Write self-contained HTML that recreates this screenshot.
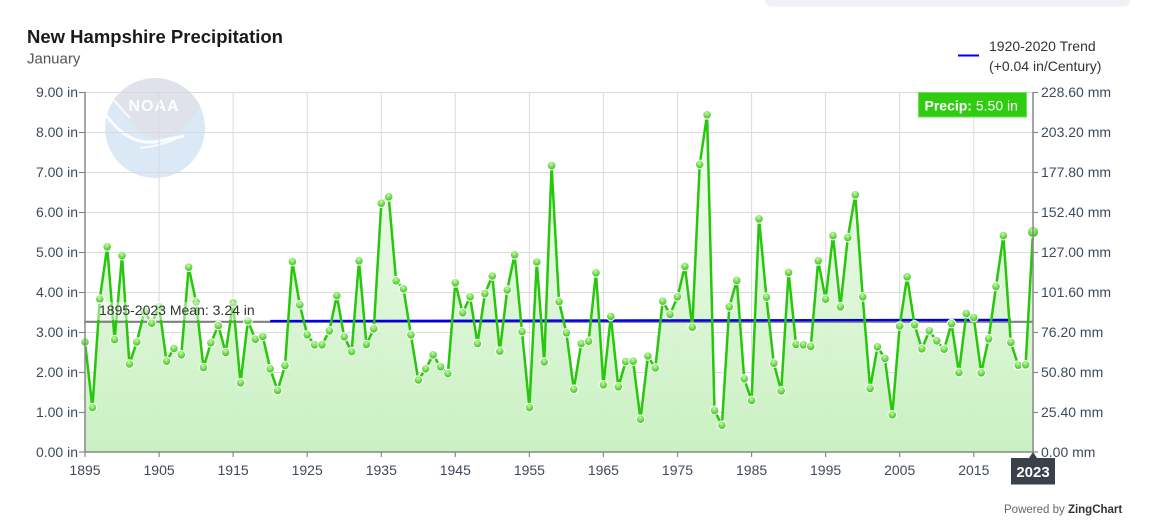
<!DOCTYPE html>
<html><head><meta charset="utf-8"><style>
html,body{margin:0;padding:0;background:#fff;}
body{width:1149px;height:529px;overflow:hidden;}
svg{display:block;font-family:"Liberation Sans",sans-serif;}
</style></head><body>
<svg width="1149" height="529" viewBox="0 0 1149 529" xmlns="http://www.w3.org/2000/svg">
<defs>
<linearGradient id="fillG" x1="0" y1="92" x2="0" y2="452" gradientUnits="userSpaceOnUse">
<stop offset="0" stop-color="#f6fdf4"/>
<stop offset="1" stop-color="#c7f0bf"/>
</linearGradient>
<radialGradient id="dotG" cx="0.45" cy="0.3" r="0.75">
<stop offset="0" stop-color="#c8f7a8"/>
<stop offset="0.55" stop-color="#6ad84a"/>
<stop offset="1" stop-color="#2cbf10"/>
</radialGradient>
<marker id="dot" markerWidth="12" markerHeight="12" refX="6" refY="6" markerUnits="userSpaceOnUse" viewBox="0 0 12 12">
<circle cx="6" cy="6" r="4.3" fill="url(#dotG)" stroke="#ffffff" stroke-width="1"/>
</marker>
</defs>

<!-- top gray bar -->
<rect x="765" y="-10" width="365" height="16.5" rx="6" fill="#f0f1f5"/>

<!-- title -->
<text x="27" y="43" font-size="18.5" font-weight="bold" fill="#1a1a1a">New Hampshire Precipitation</text>
<text x="27" y="63.5" font-size="15" fill="#555">January</text>

<!-- legend -->
<line x1="958" y1="55.5" x2="979" y2="55.5" stroke="#0000ee" stroke-width="2"/>
<text x="989" y="51" font-size="14" fill="#333">1920-2020 Trend</text>
<text x="989" y="71" font-size="14" fill="#333">(+0.04 in/Century)</text>

<!-- NOAA logo -->
<g opacity="1">
<circle cx="155" cy="128" r="50" fill="#dbe9f6"/>
<path d="M200 106 A50 50 0 0 0 114 100 Q136 136 158 139 Q184 136 200 106 Z" fill="#dfe2ea"/>
<path d="M106 115 Q130 148 160 141 Q175 138 184 136" fill="none" stroke="#ffffff" stroke-width="3" opacity="0.85"/>
<path d="M140 148 Q160 146 176 139" fill="none" stroke="#ffffff" stroke-width="2" opacity="0.8"/>
<path d="M114 100 Q124 112 130 118" fill="none" stroke="#ffffff" stroke-width="2" opacity="0.8"/>
<text x="154" y="111" font-size="16" font-weight="bold" fill="#ffffff" text-anchor="middle" letter-spacing="1">NOAA</text>
</g>

<!-- grid -->
<g stroke="#dadada" stroke-width="1">
<line x1="85" y1="92.5" x2="1033" y2="92.5"/>
<line x1="85" y1="132.5" x2="1033" y2="132.5"/>
<line x1="85" y1="172.5" x2="1033" y2="172.5"/>
<line x1="85" y1="212.5" x2="1033" y2="212.5"/>
<line x1="85" y1="252.5" x2="1033" y2="252.5"/>
<line x1="85" y1="292.5" x2="1033" y2="292.5"/>
<line x1="85" y1="332.5" x2="1033" y2="332.5"/>
<line x1="85" y1="372.5" x2="1033" y2="372.5"/>
<line x1="85" y1="412.5" x2="1033" y2="412.5"/>
<line x1="159.1" y1="92" x2="159.1" y2="452"/>
<line x1="233.1" y1="92" x2="233.1" y2="452"/>
<line x1="307.2" y1="92" x2="307.2" y2="452"/>
<line x1="381.3" y1="92" x2="381.3" y2="452"/>
<line x1="455.3" y1="92" x2="455.3" y2="452"/>
<line x1="529.4" y1="92" x2="529.4" y2="452"/>
<line x1="603.4" y1="92" x2="603.4" y2="452"/>
<line x1="677.5" y1="92" x2="677.5" y2="452"/>
<line x1="751.6" y1="92" x2="751.6" y2="452"/>
<line x1="825.6" y1="92" x2="825.6" y2="452"/>
<line x1="899.7" y1="92" x2="899.7" y2="452"/>
<line x1="973.8" y1="92" x2="973.8" y2="452"/>
</g>

<!-- area fill -->
<polygon fill="url(#fillG)" fill-opacity="0.95" points="85.0,342.0 92.4,407.6 99.8,299.2 107.2,246.8 114.6,339.6 122.0,255.6 129.4,364.0 136.8,342.0 144.3,311.6 151.7,323.2 159.1,306.8 166.5,361.2 173.9,348.4 181.3,354.8 188.7,267.2 196.1,302.0 203.5,367.6 210.9,342.8 218.3,325.6 225.7,352.4 233.1,302.8 240.5,382.8 247.9,320.8 255.3,339.2 262.8,336.4 270.2,368.8 277.6,390.4 285.0,365.6 292.4,261.6 299.8,304.8 307.2,334.8 314.6,344.8 322.0,344.8 329.4,330.8 336.8,295.6 344.2,336.8 351.6,351.6 359.0,260.8 366.4,344.4 373.8,328.8 381.3,203.2 388.7,196.8 396.1,280.8 403.5,288.8 410.9,334.8 418.3,380.0 425.7,368.8 433.1,354.8 440.5,366.8 447.9,373.6 455.3,282.8 462.7,312.8 470.1,296.8 477.5,343.6 484.9,293.6 492.3,276.0 499.8,351.2 507.2,290.0 514.6,254.8 522.0,331.6 529.4,407.6 536.8,262.0 544.2,362.0 551.6,165.6 559.0,301.6 566.4,332.8 573.8,389.2 581.2,343.6 588.6,341.2 596.0,272.8 603.4,384.8 610.8,316.4 618.3,386.8 625.7,361.6 633.1,361.2 640.5,419.2 647.9,356.0 655.3,368.0 662.7,301.2 670.1,314.4 677.5,296.8 684.9,266.4 692.3,327.2 699.7,164.4 707.1,114.8 714.5,410.4 721.9,425.2 729.3,306.8 736.8,280.4 744.2,378.8 751.6,400.4 759.0,218.8 766.4,297.2 773.8,363.2 781.2,390.8 788.6,272.4 796.0,344.4 803.4,344.8 810.8,346.4 818.2,260.8 825.6,299.2 833.0,235.6 840.4,306.8 847.8,237.6 855.3,194.8 862.7,296.8 870.1,388.4 877.5,346.8 884.9,358.4 892.3,414.8 899.7,326.0 907.1,276.8 914.5,324.8 921.9,348.8 929.3,330.8 936.7,340.8 944.1,349.2 951.5,323.6 958.9,372.4 966.3,313.6 973.8,317.6 981.2,372.8 988.6,338.8 996.0,286.4 1003.4,235.6 1010.8,342.4 1018.2,365.2 1025.6,364.8 1033.0,232.0 1033,452 85,452"/>

<!-- mean line -->
<line x1="85" y1="321.8" x2="1033" y2="321.8" stroke="#808080" stroke-width="2.2"/>
<!-- trend line -->
<line x1="270.2" y1="321.1" x2="1010.8" y2="319.9" stroke="#0000ee" stroke-width="2.4"/>

<!-- series line -->
<polyline fill="none" stroke="#27c70c" stroke-width="2.5" stroke-linejoin="round" marker-start="url(#dot)" marker-mid="url(#dot)" marker-end="url(#dot)" points="85.0,342.0 92.4,407.6 99.8,299.2 107.2,246.8 114.6,339.6 122.0,255.6 129.4,364.0 136.8,342.0 144.3,311.6 151.7,323.2 159.1,306.8 166.5,361.2 173.9,348.4 181.3,354.8 188.7,267.2 196.1,302.0 203.5,367.6 210.9,342.8 218.3,325.6 225.7,352.4 233.1,302.8 240.5,382.8 247.9,320.8 255.3,339.2 262.8,336.4 270.2,368.8 277.6,390.4 285.0,365.6 292.4,261.6 299.8,304.8 307.2,334.8 314.6,344.8 322.0,344.8 329.4,330.8 336.8,295.6 344.2,336.8 351.6,351.6 359.0,260.8 366.4,344.4 373.8,328.8 381.3,203.2 388.7,196.8 396.1,280.8 403.5,288.8 410.9,334.8 418.3,380.0 425.7,368.8 433.1,354.8 440.5,366.8 447.9,373.6 455.3,282.8 462.7,312.8 470.1,296.8 477.5,343.6 484.9,293.6 492.3,276.0 499.8,351.2 507.2,290.0 514.6,254.8 522.0,331.6 529.4,407.6 536.8,262.0 544.2,362.0 551.6,165.6 559.0,301.6 566.4,332.8 573.8,389.2 581.2,343.6 588.6,341.2 596.0,272.8 603.4,384.8 610.8,316.4 618.3,386.8 625.7,361.6 633.1,361.2 640.5,419.2 647.9,356.0 655.3,368.0 662.7,301.2 670.1,314.4 677.5,296.8 684.9,266.4 692.3,327.2 699.7,164.4 707.1,114.8 714.5,410.4 721.9,425.2 729.3,306.8 736.8,280.4 744.2,378.8 751.6,400.4 759.0,218.8 766.4,297.2 773.8,363.2 781.2,390.8 788.6,272.4 796.0,344.4 803.4,344.8 810.8,346.4 818.2,260.8 825.6,299.2 833.0,235.6 840.4,306.8 847.8,237.6 855.3,194.8 862.7,296.8 870.1,388.4 877.5,346.8 884.9,358.4 892.3,414.8 899.7,326.0 907.1,276.8 914.5,324.8 921.9,348.8 929.3,330.8 936.7,340.8 944.1,349.2 951.5,323.6 958.9,372.4 966.3,313.6 973.8,317.6 981.2,372.8 988.6,338.8 996.0,286.4 1003.4,235.6 1010.8,342.4 1018.2,365.2 1025.6,364.8 1033.0,232.0"/>
<circle cx="1033" cy="232" r="5.6" fill="url(#dotG)" stroke="#ffffff" stroke-width="1"/>

<!-- mean label -->
<rect x="96" y="302" width="162" height="18" fill="#ffffff" fill-opacity="0.45"/>
<text x="99" y="315" font-size="14" fill="#333">1895-2023 Mean: 3.24 in</text>

<!-- axes -->
<g stroke="#888" stroke-width="1.5" fill="none">
<line x1="85" y1="92" x2="85" y2="452"/>
<line x1="1033" y1="92" x2="1033" y2="452"/>
<line x1="85" y1="452" x2="1033" y2="452"/>
</g>
<g stroke="#888" stroke-width="1.2">
<line x1="79" y1="92.5" x2="85" y2="92.5"/><line x1="79" y1="132.5" x2="85" y2="132.5"/><line x1="79" y1="172.5" x2="85" y2="172.5"/><line x1="79" y1="212.5" x2="85" y2="212.5"/><line x1="79" y1="252.5" x2="85" y2="252.5"/><line x1="79" y1="292.5" x2="85" y2="292.5"/><line x1="79" y1="332.5" x2="85" y2="332.5"/><line x1="79" y1="372.5" x2="85" y2="372.5"/><line x1="79" y1="412.5" x2="85" y2="412.5"/><line x1="79" y1="452" x2="85" y2="452"/>
<line x1="1033" y1="92.5" x2="1038" y2="92.5"/><line x1="1033" y1="132.5" x2="1038" y2="132.5"/><line x1="1033" y1="172.5" x2="1038" y2="172.5"/><line x1="1033" y1="212.5" x2="1038" y2="212.5"/><line x1="1033" y1="252.5" x2="1038" y2="252.5"/><line x1="1033" y1="292.5" x2="1038" y2="292.5"/><line x1="1033" y1="332.5" x2="1038" y2="332.5"/><line x1="1033" y1="372.5" x2="1038" y2="372.5"/><line x1="1033" y1="412.5" x2="1038" y2="412.5"/><line x1="1033" y1="452" x2="1038" y2="452"/>
<line x1="85" y1="452" x2="85" y2="457"/><line x1="159.1" y1="452" x2="159.1" y2="457"/><line x1="233.1" y1="452" x2="233.1" y2="457"/><line x1="307.2" y1="452" x2="307.2" y2="457"/><line x1="381.3" y1="452" x2="381.3" y2="457"/><line x1="455.3" y1="452" x2="455.3" y2="457"/><line x1="529.4" y1="452" x2="529.4" y2="457"/><line x1="603.4" y1="452" x2="603.4" y2="457"/><line x1="677.5" y1="452" x2="677.5" y2="457"/><line x1="751.6" y1="452" x2="751.6" y2="457"/><line x1="825.6" y1="452" x2="825.6" y2="457"/><line x1="899.7" y1="452" x2="899.7" y2="457"/><line x1="973.8" y1="452" x2="973.8" y2="457"/>
</g>

<!-- left labels -->
<g font-size="14" fill="#3e4a5c" text-anchor="end">
<text x="78" y="97">9.00 in</text>
<text x="78" y="137">8.00 in</text>
<text x="78" y="177">7.00 in</text>
<text x="78" y="217">6.00 in</text>
<text x="78" y="257">5.00 in</text>
<text x="78" y="297">4.00 in</text>
<text x="78" y="337">3.00 in</text>
<text x="78" y="377">2.00 in</text>
<text x="78" y="417">1.00 in</text>
<text x="78" y="457">0.00 in</text>
</g>
<!-- right labels -->
<g font-size="14" fill="#3e4a5c">
<text x="1041" y="97">228.60 mm</text>
<text x="1041" y="137">203.20 mm</text>
<text x="1041" y="177">177.80 mm</text>
<text x="1041" y="217">152.40 mm</text>
<text x="1041" y="257">127.00 mm</text>
<text x="1041" y="297">101.60 mm</text>
<text x="1041" y="337">76.20 mm</text>
<text x="1041" y="377">50.80 mm</text>
<text x="1041" y="417">25.40 mm</text>
<text x="1041" y="457">0.00 mm</text>
</g>
<!-- bottom labels -->
<g font-size="14" fill="#3e4a5c" text-anchor="middle">
<text x="85" y="475">1895</text>
<text x="159.1" y="475">1905</text>
<text x="233.1" y="475">1915</text>
<text x="307.2" y="475">1925</text>
<text x="381.3" y="475">1935</text>
<text x="455.3" y="475">1945</text>
<text x="529.4" y="475">1955</text>
<text x="603.4" y="475">1965</text>
<text x="677.5" y="475">1975</text>
<text x="751.6" y="475">1985</text>
<text x="825.6" y="475">1995</text>
<text x="899.7" y="475">2005</text>
<text x="973.8" y="475">2015</text>
</g>

<!-- tooltip precip -->
<rect x="918.5" y="92.5" width="108" height="24.5" fill="#2fcc12" stroke="#6ee05a" stroke-width="1"/>
<text x="924.5" y="110.5" font-size="14" fill="#ffffff"><tspan font-weight="bold">Precip:</tspan> 5.50 in</text>

<!-- x tooltip 2023 -->
<path d="M1011 458 L1029 458 L1033 452 L1037 458 L1055 458 L1055 484.5 L1011 484.5 Z" fill="#3a414b"/>
<text x="1033" y="477" font-size="15" font-weight="bold" fill="#ffffff" text-anchor="middle">2023</text>

<!-- credit -->
<text x="1004" y="513" font-size="11.5" fill="#666">Powered by <tspan font-weight="bold" fill="#333">ZingChart</tspan></text>
</svg>
</body></html>
